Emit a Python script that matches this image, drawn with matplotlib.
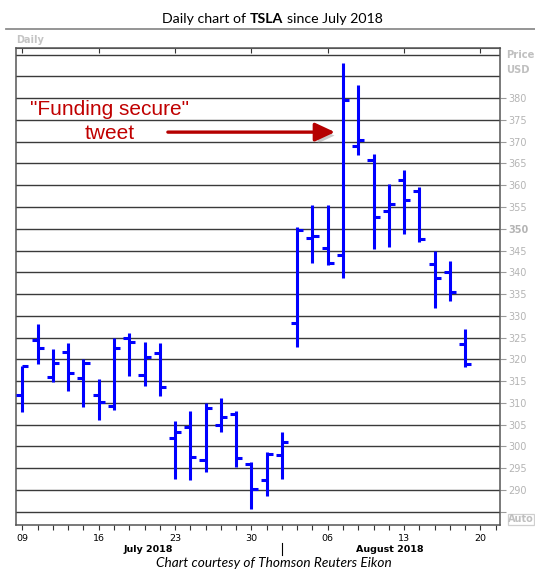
import numpy as np
import pandas as pd
import matplotlib
matplotlib.use("Agg")
import matplotlib.pyplot as plt
from matplotlib import patheffects as pe
from matplotlib.lines import Line2D
from matplotlib.patches import Rectangle

# ---------------- data ----------------
dates = pd.bdate_range("2018-07-09", "2018-08-17")
axis_days = pd.bdate_range("2018-07-09", "2018-08-21")
opens = [311.7, 324.5, 315.9, 321.7, 315.7, 311.8, 309.2, 325.0, 316.4, 321.4,
         301.9, 304.4, 296.8, 304.8, 307.5, 296.0, 292.3, 298.1, 328.4, 347.8,
         345.5, 343.9, 369.0, 365.7, 354.0, 361.1, 358.6, 341.9, 340.0, 323.5]
highs = [318.5, 328.0, 322.3, 323.7, 320.1, 315.5, 325.0, 326.0, 323.9, 323.7,
         305.8, 308.1, 310.0, 311.1, 308.1, 296.4, 298.7, 303.2, 350.3, 355.4,
         355.4, 388.0, 383.0, 367.2, 360.3, 363.5, 359.5, 344.9, 342.6, 327.0]
lows = [307.8, 318.9, 314.8, 312.7, 309.0, 306.1, 308.3, 316.1, 313.8, 311.5,
        292.6, 292.2, 294.2, 303.4, 295.2, 285.7, 288.7, 292.6, 322.9, 342.2,
        341.6, 338.7, 367.0, 345.4, 345.7, 348.7, 347.0, 331.9, 333.5, 318.3]
closes = [318.5, 322.5, 319.2, 316.8, 319.2, 310.2, 322.7, 323.9, 320.5, 313.6,
          303.2, 297.5, 308.7, 306.7, 297.3, 290.2, 298.2, 301.0, 349.7, 348.3,
          342.1, 379.6, 370.4, 352.6, 355.6, 356.5, 347.6, 338.6, 335.4, 318.9]
month_labels = ["July 2018", "August 2018"]
price_ticks = list(range(285, 381, 5))
extra_grid = [385, 390]
annot_lines = ['"Funding secure"', "tweet"]
annot_from_day, annot_to_day, annot_price = 9.53, 20.47, 372.2

# ---------------- figure ----------------
W, H = 535, 581
fig = plt.figure(figsize=(W / 100, H / 100), dpi=100)
fig.patch.set_facecolor("white")


def fx(px):
    return px / W


def fy(py):
    return 1 - py / H


ax = fig.add_axes([fx(15.8), fy(525), fx(500.3) - fx(15.8), fy(48.3) - fy(525)])
ax.set_xlim(-0.43, 31.3)
ax.set_ylim(281.93, 391.46)
ax.set_axisbelow(True)

x = np.arange(len(dates))
blue = "#0000ff"
ax.vlines(x, lows, highs, color=blue, lw=2.2, zorder=3)
ax.hlines(opens, x - 0.4, x, color=blue, lw=2.2, zorder=3)
ax.hlines(closes, x, x + 0.4, color=blue, lw=2.2, zorder=3)

# y axis on right
ax.yaxis.tick_right()
ax.set_yticks(price_ticks)
ax.set_yticklabels(["" if v == 285 else str(v) for v in price_ticks],
                   fontfamily="DejaVu Sans")
for lab, v in zip(ax.get_yticklabels(), price_ticks):
    if v == 350:
        lab.set_fontweight("bold")
ax.tick_params(axis="y", right=True, left=False, length=4, width=0.8,
               color="#9a9a9a", pad=2, labelsize=7, labelcolor="#b4b4b4")
ax.grid(axis="y", color="#3a3a3a", lw=1.0)
for v in extra_grid:
    ax.axhline(v, color="#3a3a3a", lw=1.0, zorder=1)

# x axis
ax.set_xticks(np.arange(len(axis_days)))
ax.set_xticklabels([d.strftime("%d") if d.weekday() == 0 else "" for d in axis_days],
                   fontfamily="DejaVu Sans")
ax.tick_params(axis="x", bottom=True, length=3.5, width=0.8, color="#333333",
               pad=3, labelsize=6.8, labelcolor="#000000")

secax = ax.secondary_xaxis("top")
secax.set_xticks([i for i, d in enumerate(axis_days) if d.weekday() == 0])
secax.set_xticklabels([])
secax.tick_params(direction="in", length=3.5, width=0.8, color="#333333")
secax.spines["top"].set_color("#555555")

for s in ax.spines.values():
    s.set_color("#555555")
    s.set_linewidth(1.1)

# annotation
red = "#c00000"
fig.text(fx(110), fy(115), annot_lines[0], ha="center", va="baseline",
         fontsize=15, color=red, fontfamily="Liberation Sans")
fig.text(fx(110), fy(139), annot_lines[1], ha="center", va="baseline",
         fontsize=15, color=red, fontfamily="Liberation Sans")
ann = ax.annotate("", xy=(annot_to_day, annot_price), xytext=(annot_from_day, annot_price),
                  arrowprops=dict(arrowstyle="-|>,head_length=0.6,head_width=0.28",
                                  color="#b50000", lw=2.4, mutation_scale=20,
                                  shrinkA=0, shrinkB=0), zorder=4)
ann.arrow_patch.set_path_effects([
    pe.SimplePatchShadow(offset=(2.5, -2.5), shadow_rgbFace="#888888", alpha=0.45),
    pe.Normal()])

# title
r = fig.canvas.get_renderer()
tkw = dict(fontsize=10.2, fontfamily="Lato", color="#000000", va="baseline", ha="left")
pieces = [("Daily chart of", "normal"), ("TSLA", "bold"), ("since July 2018", "normal")]
tmp1 = fig.text(0, 0, "x x", **tkw)
tmp2 = fig.text(0, 0, "xx", **tkw)
space = tmp1.get_window_extent(r).width - tmp2.get_window_extent(r).width
tmp1.remove(); tmp2.remove()
texts = [fig.text(0, fy(22.7), s, fontweight=w, **tkw) for s, w in pieces]
widths = [t.get_window_extent(r).width for t in texts]
total = sum(widths) + space * (len(texts) - 1)
cx = 272.5 - total / 2
for t, w in zip(texts, widths):
    t.set_x(fx(cx))
    cx += w + space

fig.add_artist(Line2D([fx(6), fx(535)], [fy(28.5), fy(28.5)], color="#8c8c8c", lw=1.3))
fig.text(fx(16.5), fy(43.3), "Daily", fontsize=7, fontweight="bold", color="#c4c4c4",
         fontfamily="DejaVu Sans", va="baseline", ha="left")

# right labels
gray = "#c0c0c0"
fig.text(fx(506.5), fy(55.5), "Price", fontsize=7.2, fontweight="bold", color=gray,
         fontfamily="DejaVu Sans", va="center", ha="left")
fig.text(fx(506.5), fy(70.3), "USD", fontsize=7.2, fontweight="bold", color=gray,
         fontfamily="DejaVu Sans", va="center", ha="left")
fig.add_artist(Rectangle((fx(507.5), fy(525)), fx(534) - fx(507.5), fy(513.5) - fy(525),
                         transform=fig.transFigure, fill=False, edgecolor="#cfcfcf", lw=0.9))
fig.text(fx(521), fy(519.3), "Auto", fontsize=7, fontweight="bold", color=gray,
         fontfamily="DejaVu Sans", va="center", ha="center")

# bottom labels
fig.text(fx(148.6), fy(552.3), month_labels[0], fontsize=6.8, fontweight="bold",
         fontfamily="DejaVu Sans", va="baseline", ha="center")
fig.text(fx(390), fy(552.3), month_labels[1], fontsize=6.8, fontweight="bold",
         fontfamily="DejaVu Sans", va="baseline", ha="center")
fig.add_artist(Line2D([fx(281.7), fx(281.7)], [fy(543), fy(555)], color="#000000", lw=0.8))
fig.text(fx(274), fy(567.3), "Chart courtesy of Thomson Reuters Eikon", fontsize=9.8,
         fontstyle="italic", fontfamily="Lato", va="baseline", ha="center")

fig.savefig("out.png", dpi=100)
